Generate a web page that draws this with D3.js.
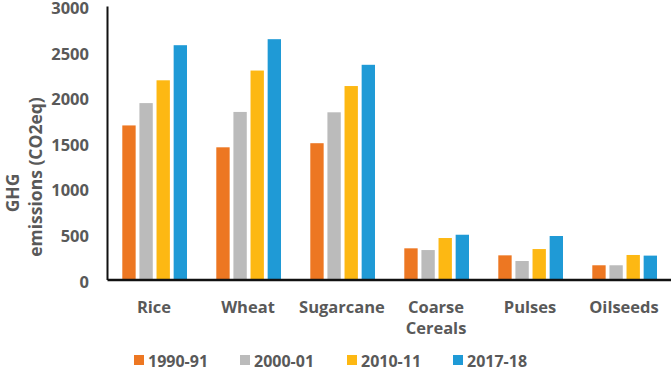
<!DOCTYPE html>
<html>
<head>
<meta charset="utf-8">
<script src="https://cdn.jsdelivr.net/npm/d3@7"></script>
<style>
  html, body { margin: 0; padding: 0; background: #fff; }
  svg { display: block; }
  text { font-family: "Open Sans", "Noto Sans", sans-serif; font-weight: bold; fill: #595959; }
</style>
</head>
<body>
<svg id="chart" width="671" height="380"></svg>
<script>
const categories = ["Rice", "Wheat", "Sugarcane", "Coarse Cereals", "Pulses", "Oilseeds"];
const categoryLines = [["Rice"], ["Wheat"], ["Sugarcane"], ["Coarse", "Cereals"], ["Pulses"], ["Oilseeds"]];
const seriesNames = ["1990-91", "2000-01", "2010-11", "2017-18"];
const s1990 = [1690, 1450, 1495, 342, 265, 156];
const s2000 = [1935, 1838, 1834, 323, 203, 156];
const s2010 = [2185, 2292, 2122, 455, 334, 269];
const s2017 = [2570, 2636, 2355, 491, 477, 262];
const seriesValues = [s1990, s2000, s2010, s2017];
const colors = ["#ED7722", "#BBBBBB", "#FDB813", "#1F9AD6"];
const yTicks = [0, 500, 1000, 1500, 2000, 2500, 3000];

const svg = d3.select("#chart");
const x0 = d3.scaleBand().domain(categories).range([107, 671]).padding(0);
const x1 = d3.scaleBand().domain(seriesNames).range([15.3, 80]).paddingInner(0.22).paddingOuter(0);
const y = d3.scaleLinear().domain([0, 3000]).range([279.5, 6]);

// bars
seriesNames.forEach((s, si) => {
  svg.append("g").selectAll("rect")
    .data(categories.map((c, ci) => ({ c, v: seriesValues[si][ci] })))
    .join("rect")
    .attr("x", d => x0(d.c) + x1(s))
    .attr("width", x1.bandwidth())
    .attr("y", d => y(d.v))
    .attr("height", d => y(0) - y(d.v))
    .attr("fill", colors[si]);
});

// y axis
const yAxis = d3.axisLeft(y).tickValues(yTicks).tickSize(0).tickPadding(18).tickFormat(d3.format("d"));
const gy = svg.append("g").attr("transform", "translate(107,0)").call(yAxis);
gy.attr("font-family", null).attr("font-size", null);
gy.select(".domain").attr("stroke", "#111").attr("stroke-width", 2);
gy.selectAll("text").attr("font-size", 16.5).attr("dy", "0.46em").style("fill", "#595959");

// x axis
const xAxis = d3.axisBottom(x0).tickSize(0).tickFormat("");
const gx = svg.append("g").attr("transform", "translate(0,279.5)").call(xAxis);
gx.select(".domain").attr("stroke", "#111").attr("stroke-width", 2.5);

// category labels
categories.forEach((c, i) => {
  const t = svg.append("text")
    .attr("x", x0(c) + x0.bandwidth() / 2)
    .attr("y", 313)
    .attr("text-anchor", "middle")
    .attr("font-size", 16.5);
  categoryLines[i].forEach((line, li) => {
    t.append("tspan").attr("x", x0(c) + x0.bandwidth() / 2).attr("dy", li === 0 ? 0 : 21).text(line);
  });
});

// y axis title
svg.append("text")
  .attr("transform", "translate(19,193) rotate(-90)")
  .attr("text-anchor", "middle")
  .attr("font-size", 17.5)
  .text("GHG");
svg.append("text")
  .attr("transform", "translate(42,177) rotate(-90)")
  .attr("text-anchor", "middle")
  .attr("font-size", 17.5)
  .text("emissions (CO2eq)");

// legend
const legendX = [134, 240, 347, 453];
const lg = svg.append("g");
seriesNames.forEach((s, i) => {
  lg.append("rect").attr("x", legendX[i]).attr("y", 355).attr("width", 10).attr("height", 10).attr("fill", colors[i]);
  lg.append("text").attr("x", legendX[i] + 14).attr("y", 366.5).attr("font-size", 16).text(s);
});
</script>
</body>
</html>
